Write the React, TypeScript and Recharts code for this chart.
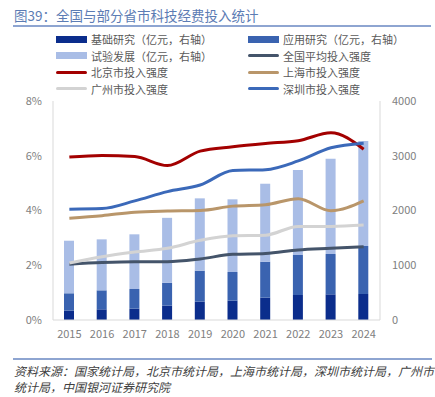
import { Bar, ComposedChart, Line, XAxis, YAxis } from "recharts";

const years = ["2015", "2016", "2017", "2018", "2019", "2020", "2021", "2022", "2023", "2024"];

// 亿元, right axis
const basicResearch = [170, 195, 207, 262, 335, 353, 408, 457, 469, 475];
const appliedResearch = [318, 347, 359, 416, 566, 524, 657, 730, 736, 877];
const experimentalDev = [960, 931, 999, 1188, 1321, 1327, 1424, 1553, 1742, 1917];

// %, left axis
const nationalRate = [2.04, 2.1, 2.13, 2.13, 2.23, 2.4, 2.43, 2.56, 2.62, 2.68];
const beijingRate = [5.95, 6.01, 5.97, 5.64, 6.17, 6.33, 6.45, 6.55, 6.84, 6.24];
const shanghaiRate = [3.72, 3.81, 3.94, 3.98, 4.0, 4.16, 4.21, 4.43, 3.99, 4.35];
const guangzhouRate = [2.08, 2.31, 2.48, 2.62, 2.91, 3.08, 3.1, 3.42, 3.42, 3.47];
const shenzhenRate = [4.05, 4.07, 4.35, 4.69, 4.93, 5.46, 5.49, 5.81, 6.29, 6.46];

const leftTicks = [0, 2, 4, 6, 8];
const rightTicks = [0, 1000, 2000, 3000, 4000];

const data = years.map((year, i) => ({
  year,
  basic: basicResearch[i],
  applied: appliedResearch[i],
  experimental: experimentalDev[i],
  national: nationalRate[i],
  beijing: beijingRate[i],
  shanghai: shanghaiRate[i],
  guangzhou: guangzhouRate[i],
  shenzhen: shenzhenRate[i],
}));

const colors = {
  basic: "#0b2d8c",
  applied: "#3a63b0",
  experimental: "#a9bde6",
  national: "#44546a",
  beijing: "#a30000",
  shanghai: "#b9966a",
  guangzhou: "#d3d3d3",
  shenzhen: "#3b69b9",
};

const legendItems = [
  { label: "基础研究（亿元，右轴）", color: colors.basic, kind: "bar" },
  { label: "应用研究（亿元，右轴）", color: colors.applied, kind: "bar" },
  { label: "试验发展（亿元，右轴）", color: colors.experimental, kind: "bar" },
  { label: "全国平均投入强度", color: colors.national, kind: "line" },
  { label: "北京市投入强度", color: colors.beijing, kind: "line" },
  { label: "上海市投入强度", color: colors.shanghai, kind: "line" },
  { label: "广州市投入强度", color: colors.guangzhou, kind: "line" },
  { label: "深圳市投入强度", color: colors.shenzhen, kind: "line" },
];

const font = '"Noto Sans CJK SC", "Noto Sans", sans-serif';
const tickStyle = { fill: "#808080", fontSize: 11, fontFamily: font };

function Legend() {
  return (
    <>
      {legendItems.map((item, i) => {
        const col = i % 2;
        const row = Math.floor(i / 2);
        const left = col === 0 ? 56 : 248;
        const top = 39 + row * 16.6;
        return (
          <div
            key={item.label}
            style={{ position: "absolute", left, top: top - 8, height: 16, display: "flex", alignItems: "center" }}
          >
            {item.kind === "bar" ? (
              <div style={{ width: 31, height: 7, background: item.color }} />
            ) : (
              <div style={{ width: 31, height: 3, borderRadius: 2, background: item.color }} />
            )}
            <span style={{ marginLeft: 4, fontSize: 11, color: "#595959", whiteSpace: "nowrap", lineHeight: "16px" }}>
              {item.label}
            </span>
          </div>
        );
      })}
    </>
  );
}

export default function App() {
  return (
    <div
      style={{
        position: "absolute",
        left: 0,
        top: 0,
        width: 435,
        height: 397,
        background: "#fff",
        fontFamily: font,
        overflow: "hidden",
      }}
    >
      <div
        style={{
          position: "absolute",
          left: 14,
          top: 5,
          fontSize: 13.5,
          color: "#5c7cb4",
          whiteSpace: "nowrap",
          lineHeight: "20px",
        }}
      >
        图39：全国与部分省市科技经费投入统计
      </div>
      <div style={{ position: "absolute", left: 13, top: 25, width: 418, height: 1.5, background: "#8ea5d1" }} />
      <Legend />
      <div style={{ position: "absolute", left: 0, top: 0 }}>
        <ComposedChart
          width={435}
          height={397}
          data={data}
          margin={{ top: 101, right: 0, bottom: 47, left: 0 }}
          barCategoryGap="35%"
        >
          <XAxis
            dataKey="year"
            axisLine={{ stroke: "#d9d9d9" }}
            tickLine={false}
            tick={tickStyle}
            tickMargin={4}
            height={30}
          />
          <YAxis
            yAxisId="left"
            orientation="left"
            domain={[0, 8]}
            ticks={leftTicks}
            tickFormatter={(v) => `${v}%`}
            axisLine={{ stroke: "#d9d9d9" }}
            tickLine={false}
            tick={tickStyle}
            tickMargin={5}
            width={53}
            interval={0}
          />
          <YAxis
            yAxisId="right"
            orientation="right"
            domain={[0, 4000]}
            ticks={rightTicks}
            axisLine={{ stroke: "#d9d9d9" }}
            tickLine={false}
            tick={{ ...tickStyle, textAnchor: "start" }}
            tickMargin={6}
            width={55}
            interval={0}
          />
          <Bar yAxisId="right" dataKey="basic" stackId="rd" fill={colors.basic} barSize={10} isAnimationActive={false} />
          <Bar yAxisId="right" dataKey="applied" stackId="rd" fill={colors.applied} barSize={10} isAnimationActive={false} />
          <Bar
            yAxisId="right"
            dataKey="experimental"
            stackId="rd"
            fill={colors.experimental}
            barSize={10}
            isAnimationActive={false}
          />
          <Line yAxisId="left" type="monotone" dataKey="national" stroke={colors.national} strokeWidth={3} dot={false} isAnimationActive={false} />
          <Line yAxisId="left" type="monotone" dataKey="beijing" stroke={colors.beijing} strokeWidth={3} dot={false} isAnimationActive={false} />
          <Line yAxisId="left" type="monotone" dataKey="shanghai" stroke={colors.shanghai} strokeWidth={3} dot={false} isAnimationActive={false} />
          <Line yAxisId="left" type="monotone" dataKey="guangzhou" stroke={colors.guangzhou} strokeWidth={3} dot={false} isAnimationActive={false} />
          <Line yAxisId="left" type="monotone" dataKey="shenzhen" stroke={colors.shenzhen} strokeWidth={3} dot={false} isAnimationActive={false} />
        </ComposedChart>
      </div>
      <div style={{ position: "absolute", left: 13, top: 358, width: 419, height: 2, background: "#8ea5d1" }} />
      <div
        style={{
          position: "absolute",
          left: 14,
          top: 363,
          width: 420,
          fontSize: 12,
          fontStyle: "italic",
          color: "#404040",
          lineHeight: "16px",
        }}
      >
        资料来源：国家统计局，北京市统计局，上海市统计局，深圳市统计局，广州市统计局，中国银河证券研究院
      </div>
    </div>
  );
}
